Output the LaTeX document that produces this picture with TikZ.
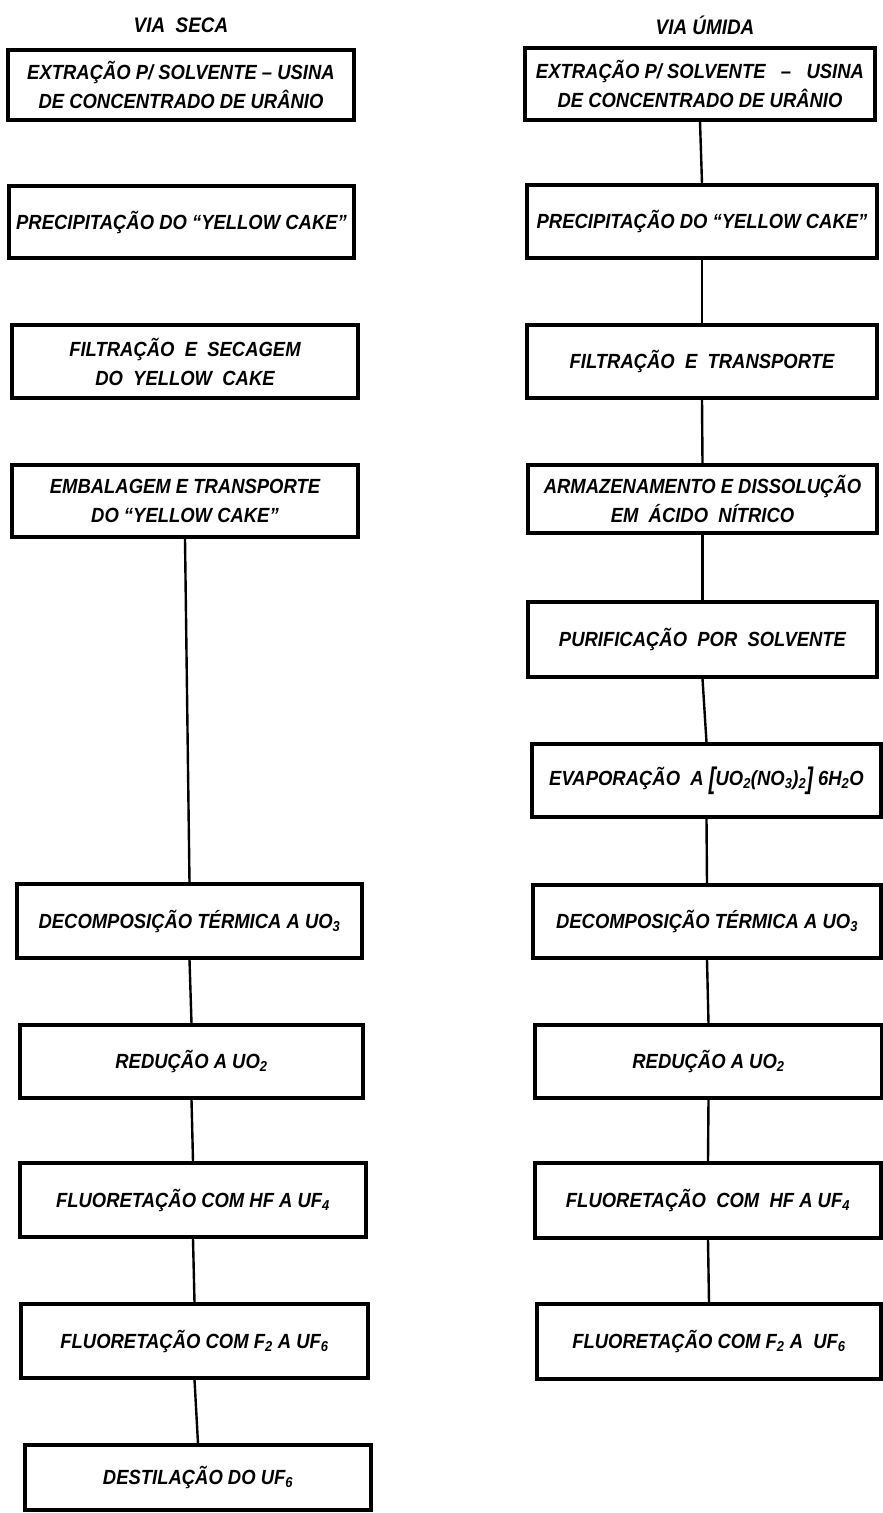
\documentclass[tikz,border=0pt]{standalone}
\usepackage{graphicx}
\usepackage{fontspec}
\setmainfont{Liberation Sans}[FakeStretch=0.9]
\newcommand{\bigbr}[1]{\raisebox{-0.12em}{\scalebox{1.1}[1.45]{#1}}}
\begin{document}
\begin{tikzpicture}[x=1pt,y=-1pt,
  box/.style={draw, line width=3.4pt, inner sep=0pt, align=center,
    font=\bfseries\itshape\fontsize{20.5}{29}\selectfont},
  link/.style={line width=2.4pt},
  heading/.style={font=\bfseries\itshape\fontsize{21}{24}\selectfont}]
\useasboundingbox (0,0) rectangle (883,1513);
\fill[white] (0,0) rectangle (883,1513);

\node[heading] (tL) at (181,25) {VIA \ SECA};
\node[heading] (tR) at (705,25) {VIA ÚMIDA};

% Via seca
\node[box, minimum width=346pt, minimum height=70pt] (L1) at (181,85)
  {EXTRAÇÃO P/ SOLVENTE – USINA\\DE CONCENTRADO DE URÂNIO};
\node[box, minimum width=345pt, minimum height=72pt] (L2) at (181.5,222)
  {PRECIPITAÇÃO DO “YELLOW CAKE”};
\node[box, minimum width=346pt, minimum height=73pt] (L3) at (185,361.5)
  {FILTRAÇÃO \ E \ SECAGEM\\DO \ YELLOW \ CAKE};
\node[box, minimum width=346pt, minimum height=72pt] (L4) at (185,501)
  {EMBALAGEM E TRANSPORTE\\DO “YELLOW CAKE”};
\node[box, minimum width=345pt, minimum height=74pt] (L5) at (189.5,921)
  {DECOMPOSIÇÃO TÉRMICA A UO\textsubscript{3}};
\node[box, minimum width=343pt, minimum height=73pt] (L6) at (191.5,1061.5)
  {REDUÇÃO A UO\textsubscript{2}};
\node[box, minimum width=346pt, minimum height=74pt] (L7) at (193,1200)
  {FLUORETAÇÃO COM HF A UF\textsubscript{4}};
\node[box, minimum width=347pt, minimum height=74pt] (L8) at (194.5,1341)
  {FLUORETAÇÃO COM F\textsubscript{2} A UF\textsubscript{6}};
\node[box, minimum width=346pt, minimum height=65pt] (L9) at (198,1477.5)
  {DESTILAÇÃO DO UF\textsubscript{6}};

% Via umida
\node[box, minimum width=350pt, minimum height=72pt] (R1) at (700,84)
  {EXTRAÇÃO P/ SOLVENTE ~~–~~ USINA\\DE CONCENTRADO DE URÂNIO};
\node[box, minimum width=350pt, minimum height=73pt] (R2) at (702,221.5)
  {PRECIPITAÇÃO DO “YELLOW CAKE”};
\node[box, minimum width=350pt, minimum height=73pt] (R3) at (702,361.5)
  {FILTRAÇÃO \ E \ TRANSPORTE};
\node[box, minimum width=349pt, minimum height=68pt] (R4) at (702.5,499)
  {ARMAZENAMENTO E DISSOLUÇÃO\\EM \ ÁCIDO \ NÍTRICO};
\node[box, minimum width=349pt, minimum height=75pt] (R5) at (702.5,639.5)
  {PURIFICAÇÃO \ POR \ SOLVENTE};
\node[box, minimum width=349pt, minimum height=73pt] (R6) at (706.5,780.5)
  {EVAPORAÇÃO \ A \bigbr{[}UO\textsubscript{2}(NO\textsubscript{3})\textsubscript{2}\bigbr{]} 6H\textsubscript{2}O};
\node[box, minimum width=348pt, minimum height=73pt] (R7) at (707,921.5)
  {DECOMPOSIÇÃO TÉRMICA A UO\textsubscript{3}};
\node[box, minimum width=347pt, minimum height=73pt] (R8) at (708.5,1061.5)
  {REDUÇÃO A UO\textsubscript{2}};
\node[box, minimum width=346pt, minimum height=75pt] (R9) at (708,1200.5)
  {FLUORETAÇÃO \ COM \ HF A UF\textsubscript{4}};
\node[box, minimum width=344pt, minimum height=75pt] (R10) at (709,1341.5)
  {FLUORETAÇÃO COM F\textsubscript{2} A \ UF\textsubscript{6}};

% connectors
\draw[link] (L4.south) -- (L5.north);
\draw[link] (L5.south) -- (L6.north);
\draw[link] (L6.south) -- (L7.north);
\draw[link] (L7.south) -- (L8.north);
\draw[link] (L8.south) -- (L9.north);

\draw[link] (R1.south) -- (R2.north);
\draw[link] (R2.south) -- (R3.north);
\draw[link] (R3.south) -- (R4.north);
\draw[link] (R4.south) -- (R5.north);
\draw[link] (R5.south) -- (R6.north);
\draw[link] (R6.south) -- (R7.north);
\draw[link] (R7.south) -- (R8.north);
\draw[link] (R8.south) -- (R9.north);
\draw[link] (R9.south) -- (R10.north);
\end{tikzpicture}
\end{document}
